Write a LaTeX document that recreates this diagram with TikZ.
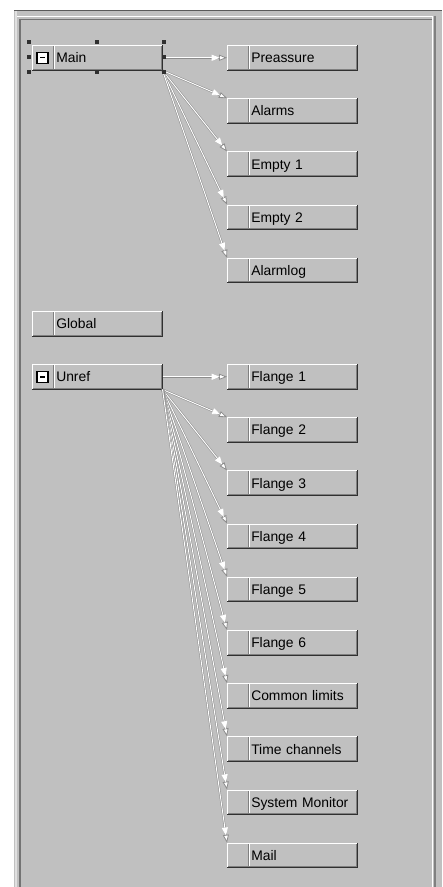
\documentclass[tikz,border=0pt]{standalone}
\usepackage{fontspec}
\setmainfont{Liberation Sans}
\usetikzlibrary{arrows.meta}
\definecolor{bg}{HTML}{C0C0C0}
\definecolor{dk}{HTML}{303030}
\definecolor{md}{HTML}{808080}
\definecolor{lnk}{HTML}{8C8C8C}
\definecolor{lite}{HTML}{E0E0E0}
\newcommand\bevelbox[1]{%
  \draw[white,line width=0.75pt] ([xshift=0.375pt]#1.south west) -- ([xshift=0.375pt,yshift=-0.375pt]#1.north west) -- ([yshift=-0.375pt]#1.north east);
  \draw[dk,line width=0.75pt] ([yshift=0.375pt]#1.south west) -- ([xshift=-0.375pt,yshift=0.375pt]#1.south east) -- ([xshift=-0.375pt]#1.north east);
  \draw[md,line width=0.75pt] ([xshift=0.75pt,yshift=1.125pt]#1.south west) -- ([xshift=-1.125pt,yshift=1.125pt]#1.south east) -- ([xshift=-1.125pt,yshift=-0.75pt]#1.north east);
  \draw[md,line width=0.75pt] ([xshift=16.1pt,yshift=1.5pt]#1.south west) -- ([xshift=16.1pt,yshift=-0.75pt]#1.north west);
  \draw[white,line width=0.75pt] ([xshift=16.85pt,yshift=1.5pt]#1.south west) -- ([xshift=16.85pt,yshift=-0.75pt]#1.north west);
}
\begin{document}
\begin{tikzpicture}[x=0.75pt,y=-0.75pt,
  font=\fontsize{10.4}{12}\selectfont,
  btn/.style={anchor=north west, fill=bg, draw=none, inner xsep=0pt, inner ysep=0pt,
    text width=97.5pt, minimum height=18.75pt, text height=7.5pt, text depth=0pt, align=left},
  conn/.style={draw=lnk, line width=1.5pt,
    -{Triangle[length=6pt,width=4.5pt,fill=white,line width=0.6pt]},
    postaction={draw=white, line width=0.7pt, shorten >=5.5pt}},
  handle/.style={fill=dk, draw=none, minimum size=3pt, inner sep=0pt}]
\useasboundingbox (0,0) rectangle (442,887);
% panel
\fill[white] (0,0) rectangle (442,887);
\fill[bg] (14,10) rectangle (442,887);
\draw[dk!80,line width=0.75pt] (14,10.5) -- (442,10.5);
\draw[lite,line width=1.5pt] (15.5,11) -- (15.5,887);
\draw[white,line width=0.9pt] (17,16.5) -- (433,16.5);
\draw[md!110,line width=1.2pt] (20,887) -- (20,19.5) -- (432,19.5);
\draw[white,line width=0.9pt] (432.5,17) -- (432.5,887);
\draw[md,line width=1.2pt] (435,16) -- (435,887);
% left column
\node[btn] (main) at (32,45) {\hspace*{18pt}Main};
\node[btn] (global) at (32,311) {\hspace*{18pt}Global};
\node[btn] (unref) at (32,364) {\hspace*{18pt}Unref};
% right column
\node[btn] (pre) at (227,45) {\hspace*{18pt}Preassure};
\node[btn] (alarms) at (227,98.2) {\hspace*{18pt}Alarms};
\node[btn] (empty1) at (227,151.4) {\hspace*{18pt}Empty 1};
\node[btn] (empty2) at (227,204.6) {\hspace*{18pt}Empty 2};
\node[btn] (alarmlog) at (227,257.8) {\hspace*{18pt}Alarmlog};
\node[btn] (f1) at (227,364) {\hspace*{18pt}Flange 1};
\node[btn] (f2) at (227,417.2) {\hspace*{18pt}Flange 2};
\node[btn] (f3) at (227,470.4) {\hspace*{18pt}Flange 3};
\node[btn] (f4) at (227,523.6) {\hspace*{18pt}Flange 4};
\node[btn] (f5) at (227,576.8) {\hspace*{18pt}Flange 5};
\node[btn] (f6) at (227,630) {\hspace*{18pt}Flange 6};
\node[btn] (cl) at (227,683.2) {\hspace*{18pt}Common limits};
\node[btn] (tc) at (227,736.4) {\hspace*{18pt}Time channels};
\node[btn] (sm) at (227,789.6) {\hspace*{18pt}System Monitor};
\node[btn] (mail) at (227,842.8) {\hspace*{18pt}Mail};
\foreach \n in {main,global,unref,pre,alarms,empty1,empty2,alarmlog,f1,f2,f3,f4,f5,f6,cl,tc,sm,mail}{\bevelbox{\n}}
% collapse icons
\foreach \n in {main,unref}{
  \draw[black,fill=white,line width=0.9pt] ([xshift=3.75pt]\n.west) ++(0,-5.5) rectangle ++(11,11);
  \draw[black,line width=1.1pt] ([xshift=3.75pt]\n.west) ++(3,0) -- ++(5,0);
}
% connectors
\draw[conn] (main.east) -- (pre.west);
\foreach \t in {alarms,empty1,empty2,alarmlog}{\draw[conn] (main.south east) -- (\t.north west);}
\draw[conn] (unref.east) -- (f1.west);
\foreach \t in {f2,f3,f4,f5,f6,cl,tc,sm,mail}{\draw[conn] (unref.south east) -- (\t.north west);}
% selection handles
\node[handle] (h1) at (29,42) {};
\node[handle] (h2) at (97,42) {};
\node[handle] (h3) at (164,42) {};
\node[handle] (h4) at (29,57.5) {};
\node[handle] (h5) at (164,57.5) {};
\node[handle] (h6) at (29,72) {};
\node[handle] (h7) at (97,72) {};
\node[handle] (h8) at (164,72) {};
\end{tikzpicture}
\end{document}
